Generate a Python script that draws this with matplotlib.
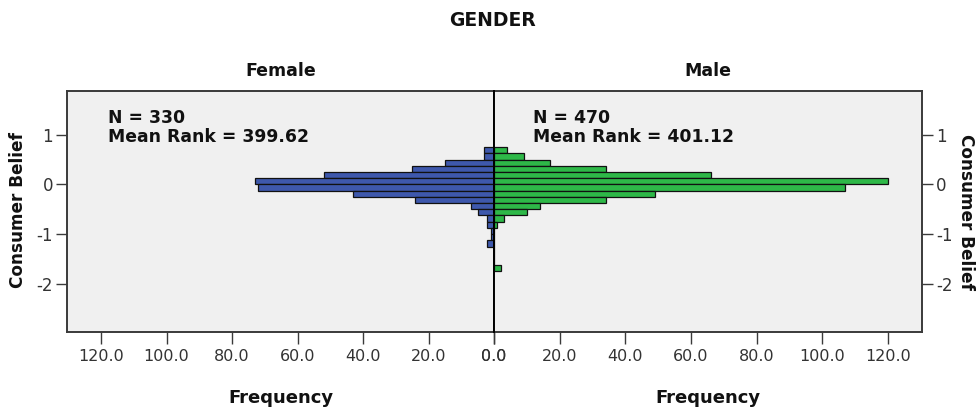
import matplotlib
matplotlib.use("Agg")
import matplotlib.pyplot as plt

# Consumer Belief histogram bins (lower edge of each bin, width 0.125)
belief_bins = [0.625, 0.5, 0.375, 0.25, 0.125, 0.0, -0.125, -0.25, -0.375, -0.5,
               -0.625, -0.75, -0.875, -1.0, -1.125, -1.25, -1.375, -1.5, -1.625, -1.75]
bin_width = 0.125

female_freq = [3, 3, 15, 25, 52, 73, 72, 43, 24, 7, 5, 2, 2, 1, 1, 2, 0, 0, 0, 0]
male_freq = [4, 9, 17, 34, 66, 120, 107, 49, 34, 14, 10, 3, 1, 0, 0, 0, 0, 0, 0, 2]

groups = ["Female", "Male"]
group_n = [330, 470]
mean_ranks = [399.62, 401.12]

x_ticks = [0, 20, 40, 60, 80, 100, 120]
y_ticks = [1, 0, -1, -2]

FEMALE_COLOR = "#3E58AC"
MALE_COLOR = "#2EB848"
PANEL_BG = "#F0F0F0"
FRAME = "#3A3A3A"
TICK_TXT = "#333333"

plt.rcParams["font.family"] = ["DejaVu Sans"]

fig = plt.figure(figsize=(9.77, 4.13), dpi=100)
W, H = 977.0, 413.0
x_left, x_mid, x_right = 67.0, 494.0, 922.0
y_top, y_bot = 91.0, 332.0

ax_f = fig.add_axes([x_left / W, 1 - y_bot / H, (x_mid - x_left) / W, (y_bot - y_top) / H])
ax_m = fig.add_axes([x_mid / W, 1 - y_bot / H, (x_right - x_mid) / W, (y_bot - y_top) / H])

xmax = 130.4
ylim = (-2.97, 1.88)

for ax, freq, color in [(ax_f, female_freq, FEMALE_COLOR), (ax_m, male_freq, MALE_COLOR)]:
    ax.set_facecolor(PANEL_BG)
    ax.barh(belief_bins, freq, height=bin_width, align="edge", color=color,
            edgecolor="#111111", linewidth=0.9, zorder=3)
    ax.set_ylim(*ylim)
    ax.set_xticks(x_ticks)
    ax.set_xticklabels([f"{v:.1f}" for v in x_ticks])
    ax.tick_params(axis="x", length=8.5, width=1.0, color=FRAME, pad=4,
                   labelsize=11.5, labelcolor=TICK_TXT)
    for s in ax.spines.values():
        s.set_color(FRAME)
        s.set_linewidth(1.4)

ax_f.set_xlim(xmax, 0)
ax_m.set_xlim(0, xmax)

# Female panel: y ticks on the left
ax_f.set_yticks(y_ticks)
ax_f.set_yticklabels([str(v) for v in y_ticks])
ax_f.tick_params(axis="y", left=True, right=False, length=8, width=1.0, color=FRAME,
                 pad=2, labelsize=12, labelcolor=TICK_TXT)

# Male panel: y ticks on the right
ax_m.set_yticks(y_ticks)
ax_m.set_yticklabels([str(v) for v in y_ticks])
ax_m.tick_params(axis="y", left=False, right=True, labelleft=False, labelright=True,
                 length=8, width=1.0, color=FRAME, pad=2, labelsize=12, labelcolor=TICK_TXT)

# Shared zero line between the panels
for sp in (ax_f.spines["right"], ax_m.spines["left"]):
    sp.set_color("black")
    sp.set_linewidth(1.4)
    sp.set_zorder(5)

# Group statistics
for ax, n, mr, xpos in [(ax_f, group_n[0], mean_ranks[0], 0.096),
                        (ax_m, group_n[1], mean_ranks[1], 0.091)]:
    ax.text(xpos, 0.925, f"N = {n}\nMean Rank = {mr:.2f}", transform=ax.transAxes,
            ha="left", va="top", fontsize=12.4, fontweight="bold", color="#111111",
            linespacing=1.05, zorder=6)

# Titles
fig.text(493 / W, 1 - 20 / H, "GENDER", ha="center", va="center",
         fontsize=13.5, fontweight="bold", color="#111111")
fig.text((x_left + x_mid) / 2 / W, 1 - 71 / H, groups[0], ha="center", va="center",
         fontsize=12.5, fontweight="bold", color="#111111")
fig.text((x_mid + x_right) / 2 / W, 1 - 71 / H, groups[1], ha="center", va="center",
         fontsize=12.5, fontweight="bold", color="#111111")

# Axis titles
fig.text((x_left + x_mid) / 2 / W, 1 - 398 / H, "Frequency", ha="center", va="center",
         fontsize=13, fontweight="bold", color="#111111")
fig.text((x_mid + x_right) / 2 / W, 1 - 398 / H, "Frequency", ha="center", va="center",
         fontsize=13, fontweight="bold", color="#111111")
fig.text(18 / W, 1 - 210 / H, "Consumer Belief", ha="center", va="center", rotation=90,
         fontsize=12.2, fontweight="bold", color="#111111")
fig.text(966 / W, 1 - 212 / H, "Consumer Belief", ha="center", va="center", rotation=270,
         fontsize=12.2, fontweight="bold", color="#111111")

fig.savefig("out.png", dpi=100, facecolor="white")
